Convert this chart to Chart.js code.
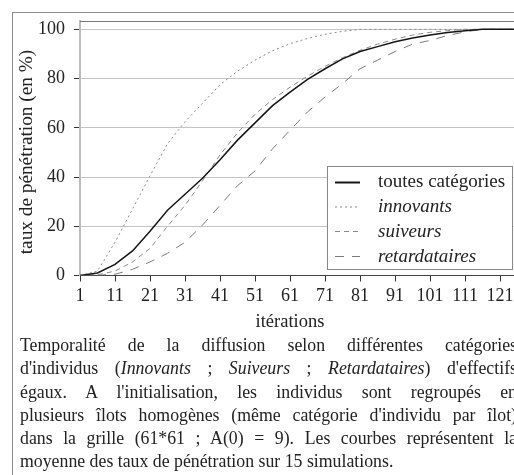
<!DOCTYPE html>
<html>
<head>
<meta charset="utf-8">
<script src="https://cdn.jsdelivr.net/npm/chart.js@4.4.1/dist/chart.umd.min.js"></script>
<style>
  html, body { margin: 0; padding: 0; background: #fff; overflow: hidden; width: 514px; height: 475px; }
  #cadre { position: absolute; left: 12px; top: 12px; width: 620px; height: 620px; border: 1px solid #8a8a8a; }
  #graphe { position: absolute; left: 0; top: 0; }
  #legende {
    position: absolute; left: 20px; top: 334px; width: 497px;
    font-family: "Liberation Serif", "Times New Roman", serif; font-size: 17.8px; line-height: 23.3px; color: #222;
  }
  #legende div { text-align: justify; text-align-last: justify; white-space: nowrap; }
  #legende div.fin { text-align-last: left; }
</style>
</head>
<body>
<div id="cadre"></div>
<canvas id="graphe" width="560" height="335"></canvas>
<div id="legende">
  <div>Temporalité de la diffusion selon différentes catégories</div>
  <div>d'individus (<i>Innovants</i> ; <i>Suiveurs</i> ; <i>Retardataires</i>) d'effectifs</div>
  <div>égaux. A l'initialisation, les individus sont regroupés en</div>
  <div>plusieurs îlots homogènes (même catégorie d'individu par îlot)</div>
  <div>dans la grille (61*61 ; A(0) = 9). Les courbes représentent la</div>
  <div class="fin">moyenne des taux de pénétration sur 15 simulations.</div>
</div>
<script>
const iterations = [1, 6, 11, 16, 21, 26, 31, 36, 41, 46, 51, 56, 61, 66, 71, 76, 81, 86, 91, 96, 101, 106, 111, 116, 121, 126, 131];
const toutes = [0, 1.0, 4.5, 10, 18, 26.5, 33, 39.5, 47, 55, 62, 69, 74.5, 79.7, 84, 88, 91, 93, 95, 96.5, 97.7, 98.7, 99.4, 100, 100, 100, 100];
const innovants = [0, 1.8, 13.5, 27, 40.5, 53.5, 62.5, 70, 77.5, 83, 87.5, 91.3, 94.2, 96.3, 98, 99.2, 100, 100, 100, 100, 100, 100, 100, 100, 100, 100, 100];
const suiveurs = [0, 0.3, 1.8, 5.5, 11, 20, 28.5, 38.5, 49, 58, 65.5, 71.5, 76.5, 81, 85, 88.5, 91.5, 94, 96, 97.7, 98.8, 99.5, 100, 100, 100, 100, 100];
const retardataires = [0, 0.1, 0.5, 2.5, 5.5, 9, 13.5, 20.5, 28.5, 36.5, 42.5, 51.5, 59, 66.5, 72.5, 78, 84, 87.5, 91, 94, 95.5, 97.5, 99, 100, 100, 100, 100];
const ticksX = [1, 11, 21, 31, 41, 51, 61, 71, 81, 91, 101, 111, 121];
const ticksY = [0, 20, 40, 60, 80, 100];

const serif = '"Liberation Serif", "Times New Roman", serif';

function points(valeurs) {
  return iterations.map((it, i) => ({ x: it, y: valeurs[i] }));
}

const series = [
  { label: "toutes catégories", data: points(toutes), borderColor: "#151515", borderWidth: 1.5, borderDash: [], italique: false },
  { label: "innovants", data: points(innovants), borderColor: "#8a8a8a", borderWidth: 1, borderDash: [2, 3], italique: true },
  { label: "suiveurs", data: points(suiveurs), borderColor: "#8a8a8a", borderWidth: 1, borderDash: [5, 4], italique: true },
  { label: "retardataires", data: points(retardataires), borderColor: "#7a7a7a", borderWidth: 1, borderDash: [9, 8], italique: true }
];

// cadre du haut, titres des axes et légende encadrée
const habillage = {
  id: "habillage",
  afterDraw(chart) {
    const ctx = chart.ctx;
    const a = chart.chartArea;
    ctx.save();
    ctx.strokeStyle = "#777";
    ctx.lineWidth = 1;
    ctx.beginPath();
    ctx.moveTo(a.left, a.top + 0.5);
    ctx.lineTo(a.right, a.top + 0.5);
    ctx.stroke();

    ctx.fillStyle = "#222";
    ctx.font = "18.5px " + serif;
    ctx.textAlign = "center";
    ctx.textBaseline = "middle";
    ctx.fillText("itérations", 290, 322);
    ctx.font = "19.3px " + serif;
    ctx.translate(27, 152);
    ctx.rotate(-Math.PI / 2);
    ctx.fillText("taux de pénétration (en %)", 0, 0);
    ctx.restore();

    // légende
    ctx.save();
    ctx.fillStyle = "#fff";
    ctx.fillRect(327, 166, 185, 103);
    ctx.strokeStyle = "#888";
    ctx.lineWidth = 1;
    ctx.strokeRect(327.5, 166.5, 185, 103);
    const lignes = [182.5, 207, 231.5, 256.5];
    chart.data.datasets.forEach((ds, i) => {
      const y = lignes[i];
      ctx.strokeStyle = ds.borderColor;
      ctx.lineWidth = i === 0 ? 2 : 1;
      ctx.setLineDash(ds.borderDash);
      ctx.beginPath();
      ctx.moveTo(335, y);
      ctx.lineTo(360, y);
      ctx.stroke();
      ctx.setLineDash([]);
      ctx.fillStyle = "#222";
      ctx.font = (ds.italique ? "italic " : "") + "19px " + serif;
      ctx.textAlign = "left";
      ctx.textBaseline = "middle";
      ctx.fillText(ds.label, 378, y);
    });
    ctx.restore();
  }
};

new Chart(document.getElementById("graphe"), {
  type: "line",
  data: { datasets: series },
  options: {
    responsive: false,
    animation: false,
    layout: { padding: { top: 21, left: 0, right: 20, bottom: 0 } },
    elements: { point: { radius: 0 }, line: { tension: 0, fill: false } },
    plugins: { legend: { display: false }, tooltip: { enabled: false } },
    scales: {
      x: {
        type: "linear",
        min: 1,
        max: 132.4,
        afterBuildTicks: scale => { scale.ticks = ticksX.map(v => ({ value: v })); },
        afterFit: scale => { scale.height = 59.5; },
        grid: { drawOnChartArea: false, tickColor: "#333", tickLength: 6 },
        border: { color: "#444", width: 1 },
        ticks: { color: "#222", font: { family: serif, size: 18 }, padding: 4, maxRotation: 0, autoSkip: false }
      },
      y: {
        min: 0,
        max: 103.4,
        afterBuildTicks: scale => { scale.ticks = ticksY.map(v => ({ value: v })); },
        afterFit: scale => { scale.width = 80; },
        grid: { color: "#c4c4c4", tickColor: "#333", tickLength: 6 },
        border: { color: "#bdbdbd", width: 2 },
        ticks: { color: "#222", font: { family: serif, size: 18 }, padding: 9 }
      }
    }
  },
  plugins: [habillage]
});
</script>
</body>
</html>
